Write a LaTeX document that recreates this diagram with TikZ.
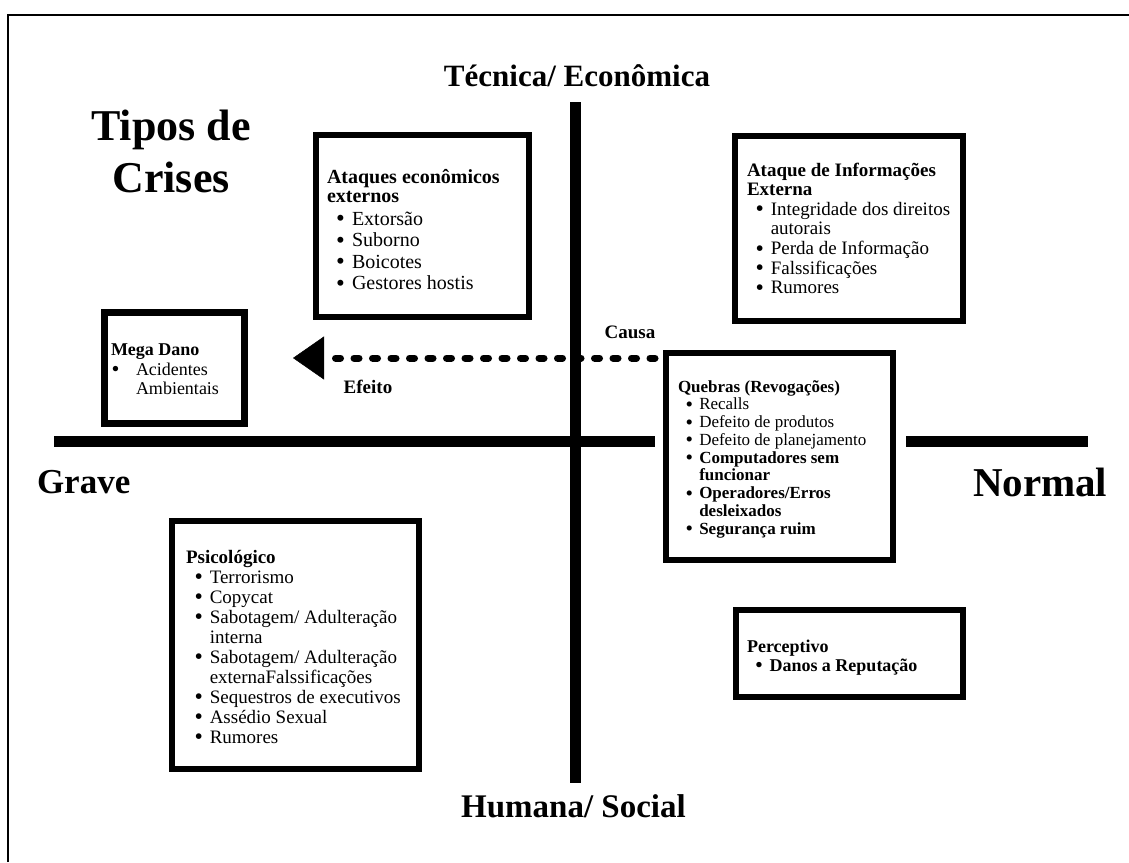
\documentclass[tikz,border=0pt]{standalone}
\usepackage{fontspec}
\setmainfont{Liberation Serif}
\usetikzlibrary{arrows.meta}
\newcommand{\fs}[2]{\fontsize{#1}{#2}\selectfont}
\newcommand{\bul}{\raisebox{-0.09em}{\scalebox{1.25}{\textbullet}}}
\newcommand{\bl}{\makebox[1.25em][l]{\hspace{0.45em}\bul}}
\newcommand{\ind}{\hspace*{1.25em}}
\begin{document}
\begin{tikzpicture}[x=1pt,y=-1pt,
  boxframe/.style={draw=black,line width=6.5pt,line join=miter},
  axis/.style={line width=10.5pt},
  txt/.style={inner sep=0pt,outer sep=0pt,anchor=base west,align=left},
  lab/.style={inner sep=0pt,outer sep=0pt,anchor=base,align=center},
  causearrow/.style={line width=7pt,line cap=round,dash pattern=on 5pt off 13.5pt,
    -{Triangle[length=31pt,width=43pt,line width=0.5pt]}},
]
\useasboundingbox (0,0) rectangle (1129,862);
% frame
\coordinate (fbl) at (8,862);
\coordinate (ftl) at (8,15);
\coordinate (ftr) at (1129,15);
\draw[line width=2.5pt] (fbl) -- (ftl) -- (ftr);

% axes
\coordinate (vtop) at (575.5,102);
\coordinate (vbot) at (575.5,783);
\coordinate (hl1) at (54,441.5);
\coordinate (hl2) at (655,441.5);
\coordinate (hr1) at (906,441.5);
\coordinate (hr2) at (1088,441.5);
\draw[axis] (vtop) -- (vbot);
\draw[axis] (hl1) -- (hl2);
\draw[axis] (hr1) -- (hr2);

% axis labels
\node[lab,font=\fs{31}{36}\bfseries] (tec) at (577,86) {Técnica/ Econômica};
\node[lab,font=\fs{33}{38}\bfseries] (hum) at (573.5,817) {Humana/ Social};
\node[txt,font=\fs{35}{40}\bfseries] (grave) at (37,493) {Grave};
\node[txt,font=\fs{41}{46}\bfseries] (normal) at (973,496) {Normal};

% title (base anchor = last line)
\node[lab,font=\fs{44}{52}\bfseries] (title) at (171,192) {Tipos de\\Crises};

% boxes (base anchor of text nodes = last line baseline)
\draw[boxframe] (316,135) rectangle (529,317);
\node[txt,font=\fs{20}{21.5}] (b1) at (327,289.5) {\bfseries Ataques econômicos\\[-2.5pt]\bfseries externos\\[1.5pt]
\bl Extorsão\\ \bl Suborno\\ \bl Boicotes\\ \bl Gestores hostis};

\draw[boxframe] (735,136) rectangle (963,321);
\node[txt,font=\fs{19}{19.6}] (b2) at (747,293.6) {\bfseries Ataque de Informações\\\bfseries Externa\\
\bl Integridade dos direitos\\ \ind autorais\\ \bl Perda de Informação\\ \bl Falssificações\\ \bl Rumores};

\draw[boxframe] (104.5,312.5) rectangle (244.5,423.5);
\node[txt,font=\fs{18}{19.5}] (b3) at (111,394.5) {\bfseries Mega Dano\\
\makebox[25pt][l]{\hspace{0.5pt}\bul}Acidentes\\ \hspace*{25pt}Ambientais};

\draw[boxframe] (666,353) rectangle (893,560);
\node[txt,font=\fs{17}{17.75}] (b4) at (678,534) {\bfseries Quebras (Revogações)\\
\bl Recalls\\ \bl Defeito de produtos\\ \bl Defeito de planejamento\\
\bl\bfseries Computadores sem\\ \ind\bfseries funcionar\\
\bl\bfseries Operadores/Erros\\ \ind\bfseries desleixados\\
\bl\bfseries Segurança ruim};

\draw[boxframe] (172,521) rectangle (419,769);
\node[txt,font=\fs{19}{20}] (b5) at (186,743) {\bfseries Psicológico\\
\bl Terrorismo\\ \bl Copycat\\ \bl Sabotagem/ Adulteração\\ \ind interna\\
\bl Sabotagem/ Adulteração\\ \ind externaFalssificações\\ \bl Sequestros de executivos\\
\bl Assédio Sexual\\ \bl Rumores};

\draw[boxframe] (736,610) rectangle (963,697);
\node[txt,font=\fs{18}{19}] (b6) at (747,671) {\bfseries Perceptivo\\ \bl\bfseries Danos a Reputação};

% cause -> effect arrow
\coordinate (cstart) at (655,358);
\coordinate (ctip) at (293,358);
\draw[causearrow] (cstart) -- (ctip);
\node[lab,font=\fs{19}{22}\bfseries] (causa) at (630,338) {Causa};
\node[lab,font=\fs{19}{22}\bfseries] (efeito) at (368,393) {Efeito};
\end{tikzpicture}
\end{document}
